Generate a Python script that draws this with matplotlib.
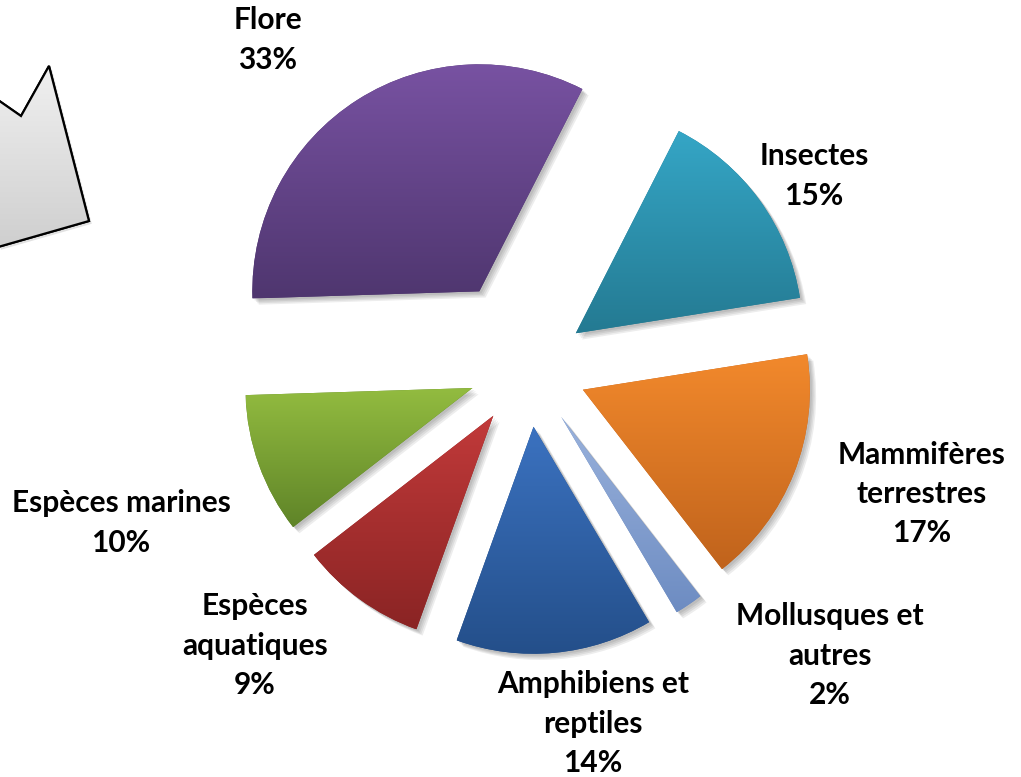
import numpy as np
import matplotlib
matplotlib.use("Agg")
import matplotlib.pyplot as plt
import matplotlib.patheffects as pe
from matplotlib.colors import to_rgb
from matplotlib.patches import Polygon

# data (clockwise, starting from the Insectes slice)
labels = ["Insectes", "Mammifères\nterrestres", "Mollusques et\nautres",
          "Amphibiens et\nreptiles", "Espèces\naquatiques", "Espèces marines", "Flore"]
values = [15, 17, 2, 14, 9, 10, 33]
explode_frac = [0.26, 0.26, 0.26, 0.26, 0.26, 0.26, 0.40]
top_colors = ["#35a6c6", "#f2892c", "#9ab2dc", "#3b72c0", "#c23a3a", "#93bc40", "#7852a2"]
bot_colors = ["#247a92", "#c0631c", "#6d8cc2", "#244f8a", "#8a2424", "#5f8428", "#4f366f"]

# label centres in pixels (x, y from top)
label_pos = [(814, 176), (922, 494), (830, 656), (593, 724), (255, 646), (121, 523), (268, 40)]

W, H = 1021, 777
CX, CY, R = 528, 368, 227


def gradient(ax, patch, c_top, c_bot, z):
    ext = patch.get_path().get_extents()
    t = np.linspace(0, 1, 256)[:, None, None]
    img = (1 - t) * np.array(to_rgb(c_bot)) + t * np.array(to_rgb(c_top))
    im = ax.imshow(img, extent=(ext.x0, ext.x1, ext.y0, ext.y1), origin="lower",
                   aspect="auto", zorder=z, interpolation="bilinear")
    im.set_clip_path(patch)


fig = plt.figure(figsize=(W / 100, H / 100), dpi=100)
ax = fig.add_axes([0, 0, 1, 1])
ax.set_axis_off()

shadow = [pe.SimplePatchShadow(offset=(o, -o), shadow_rgbFace="k", alpha=0.07) for o in (1.5, 2.5, 3.5, 4.5)]

wedges, _ = ax.pie(values, explode=[e * R for e in explode_frac], startangle=63,
                   counterclock=False, radius=R, center=(CX, H - CY), frame=True)
for w, ct, cb in zip(wedges, top_colors, bot_colors):
    w.set_facecolor(cb)
    w.set_edgecolor("none")
    w.set_path_effects(shadow + [pe.Normal()])
    w.set_zorder(2)
    gradient(ax, w, ct, cb, 3)

# grey shape cut by the left border
shape_pts = [(-2, 100), (21, 116), (49, 66), (89, 221), (-2, 247)]
poly = Polygon([(x, H - y) for x, y in shape_pts], closed=True, facecolor="#dcdcdc",
               edgecolor="black", linewidth=1.5, zorder=4)
poly.set_path_effects([pe.SimplePatchShadow(offset=(2, -2), alpha=0.15), pe.Normal()])
ax.add_patch(poly)
gradient(ax, poly, "#f0f0f0", "#cfcfcf", 4)
ax.add_patch(Polygon([(x, H - y) for x, y in shape_pts], closed=True, facecolor="none",
                     edgecolor="black", linewidth=1.6, zorder=5))

for lab, v, (x, y) in zip(labels, values, label_pos):
    ax.text(x, H - y, f"{lab}\n{v}%", ha="center", va="center", fontsize=21.5,
            fontweight="bold", family="Lato", color="black", linespacing=1.5,
            multialignment="center", zorder=6)

ax.set_xlim(0, W)
ax.set_ylim(0, H)
ax.set_aspect("auto")
fig.savefig("out.png", dpi=100)
